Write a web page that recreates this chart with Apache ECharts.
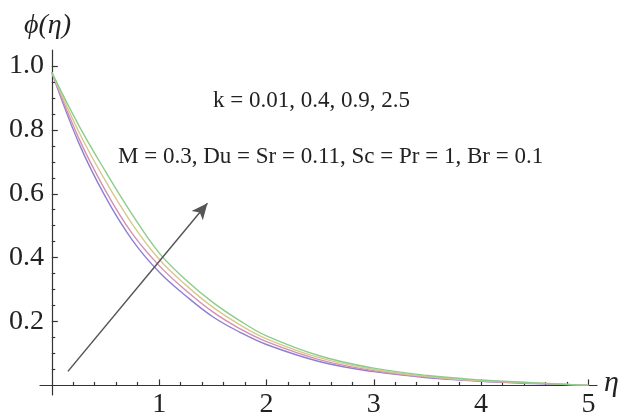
<!DOCTYPE html>
<html>
<head>
<meta charset="utf-8">
<title>phi(eta)</title>
<script src="https://cdn.jsdelivr.net/npm/echarts@6/dist/echarts.min.js"></script>
<style>
  html, body { margin: 0; padding: 0; background: #fff; }
  #main { width: 622px; height: 414px; }
</style>
</head>
<body>
<div id="main"></div>
<script>
// eta values (x)
var eta = [0, 0.25, 0.5, 0.75, 1, 1.25, 1.5, 1.75, 2, 2.5, 3, 3.5, 4, 4.5, 5]
// phi for k = 0.01, 0.4, 0.9, 2.5
var phiK1 = [0.98, 0.76, 0.59, 0.455, 0.355, 0.28, 0.215, 0.167, 0.128, 0.074, 0.043, 0.024, 0.013, 0.006, 0]
var phiK2 = [0.98, 0.775, 0.61, 0.475, 0.375, 0.297, 0.230, 0.178, 0.137, 0.080, 0.046, 0.026, 0.014, 0.007, 0]
var phiK3 = [0.98, 0.795, 0.64, 0.505, 0.395, 0.314, 0.245, 0.190, 0.146, 0.086, 0.050, 0.028, 0.015, 0.008, 0]
var phiK4 = [0.98, 0.815, 0.67, 0.535, 0.415, 0.33, 0.260, 0.203, 0.155, 0.092, 0.054, 0.031, 0.017, 0.008, 0]

var xTicks = [1, 2, 3, 4, 5]
var xMinorTicks = [0.2, 0.4, 0.6, 0.8, 1.2, 1.4, 1.6, 1.8, 2.2, 2.4, 2.6, 2.8, 3.2, 3.4, 3.6, 3.8, 4.2, 4.4, 4.6, 4.8]
var yTicks = [0.2, 0.4, 0.6, 0.8, 1.0]
var yMinorTicks = [0.05, 0.1, 0.15, 0.25, 0.3, 0.35, 0.45, 0.5, 0.55, 0.65, 0.7, 0.75, 0.85, 0.9, 0.95]

// arrow: start and end (data coords)
var arrowFrom = [0.15, 0.044]
var arrowTo = [1.45, 0.57]

var colors = ['#8c80d2', '#d68fb4', '#d6c98c', '#8ccd8c']
var seriesData = [phiK1, phiK2, phiK3, phiK4]

function pairs (ys) {
  return eta.map(function (x, i) { return [x, ys[i]] })
}

var chart = echarts.init(document.getElementById('main'))

var serif = '"Liberation Serif", "DejaVu Serif", serif'
var axisLineStyle = { color: '#333', width: 1.2 }

var series = seriesData.map(function (ys, i) {
  return {
    type: 'line',
    data: pairs(ys),
    smooth: 0.4,
    showSymbol: false,
    lineStyle: { color: colors[i], width: 1.4 },
    z: 3
  }
})
// arrow
series.push({
  type: 'line',
  data: [],
  markLine: {
    silent: true,
    symbol: ['none', 'arrow'],
    symbolSize: [11, 16],
    label: { show: false },
    lineStyle: { color: '#555', width: 1.5, type: 'solid' },
    data: [[{ coord: arrowFrom }, { coord: arrowTo }]]
  }
})

chart.setOption({
  animation: false,
  grid: { left: 40, right: 25, top: 50, bottom: 19, outerBoundsMode: 'none', containLabel: false },
  xAxis: [
    {
      type: 'value',
      position: 'bottom',
      min: -0.11,
      max: 5.08,
      axisLine: { show: true, onZero: true, lineStyle: axisLineStyle },
      axisTick: { show: true, inside: true, length: 6, customValues: xTicks, lineStyle: axisLineStyle },
      axisLabel: { show: true, customValues: xTicks, margin: -4, color: '#222', fontFamily: serif, fontSize: 28 },
      splitLine: { show: false }
    },
    {
      type: 'value',
      position: 'bottom',
      min: -0.11,
      max: 5.08,
      axisLine: { show: false, onZero: true },
      axisTick: { show: true, inside: true, length: 3.5, customValues: xMinorTicks, lineStyle: axisLineStyle },
      axisLabel: { show: false },
      splitLine: { show: false }
    }
  ],
  yAxis: [
    {
      type: 'value',
      position: 'left',
      min: -0.03,
      max: 1.05,
      axisLine: { show: true, onZero: true, lineStyle: axisLineStyle },
      axisTick: { show: true, inside: true, length: 6, customValues: yTicks, lineStyle: axisLineStyle },
      axisLabel: {
        show: true,
        customValues: yTicks,
        margin: -4,
        color: '#222',
        fontFamily: serif,
        fontSize: 28,
        formatter: function (v) { return v.toFixed(1) }
      },
      splitLine: { show: false }
    },
    {
      type: 'value',
      position: 'left',
      min: -0.03,
      max: 1.05,
      axisLine: { show: false, onZero: true },
      axisTick: { show: true, inside: true, length: 3.5, customValues: yMinorTicks, lineStyle: axisLineStyle },
      axisLabel: { show: false },
      splitLine: { show: false }
    }
  ],
  graphic: [
    { type: 'text', left: 24, top: 12, style: { text: 'ϕ(η)', font: 'italic 28px ' + serif, fill: '#222' } },
    { type: 'text', left: 604, top: 368, style: { text: 'η', font: 'italic 30px ' + serif, fill: '#222' } },
    { type: 'text', left: 213, top: 89, style: { text: 'k = 0.01, 0.4, 0.9, 2.5', font: '23px ' + serif, fill: '#222' } },
    { type: 'text', left: 118, top: 145, style: { text: 'M = 0.3, Du = Sr = 0.11, Sc = Pr = 1, Br = 0.1', font: '23px ' + serif, fill: '#222' } }
  ],
  series: series
})
</script>
</body>
</html>
